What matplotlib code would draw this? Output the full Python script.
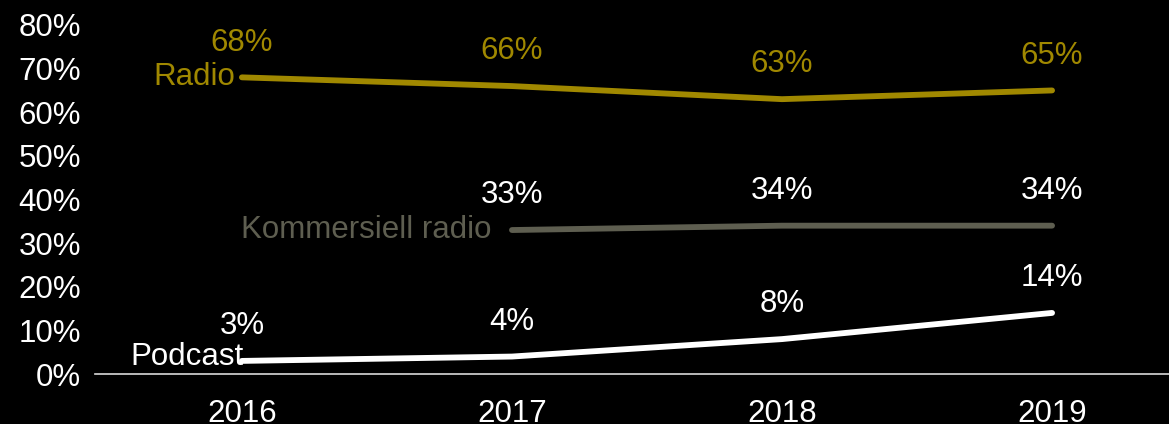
import matplotlib
matplotlib.use("Agg")
import matplotlib.pyplot as plt
import numpy as np

years = ["2016", "2017", "2018", "2019"]
radio = [68, 66, 63, 65]
kommersiell = [np.nan, 33, 34, 34]
podcast = [3, 4, 8, 14]
yticks = [0, 10, 20, 30, 40, 50, 60, 70, 80]

plt.rcParams['font.family'] = ['Liberation Sans', 'DejaVu Sans']

W, H = 1169, 424
fig = plt.figure(figsize=(W / 100, H / 100), dpi=100, facecolor='black')
ax = fig.add_axes([95 / W, 1 - 374 / H, (W - 95) / W, (374 - 25) / H])
ax.set_facecolor('black')

x = np.arange(len(years))
gold = '#a08800'
grey = '#5e5e50'
white = '#ffffff'
FS = 22.5

series = [
    ("Radio", radio, gold, gold, gold, -5, 0),
    ("Kommersiell radio", kommersiell, grey, white, grey, -15, 0),
    ("Podcast", podcast, white, white, white, 1, 3),
]

for name, vals, lc, labc, namec, dx, dy in series:
    v = np.array(vals, dtype=float)
    ax.plot(x, v, color=lc, lw=4.2, solid_capstyle='round', solid_joinstyle='round', zorder=3)
    for xi, yi in zip(x, v):
        if np.isnan(yi):
            continue
        ax.annotate(f"{int(yi)}%", (xi, yi), xytext=(0, 25), textcoords='offset points',
                    ha='center', va='center', color=labc, fontsize=FS)
    first = int(np.where(~np.isnan(v))[0][0])
    ax.annotate(name, (x[first], v[first]), xytext=(dx, dy),
                textcoords='offset points', ha='right', va='center', color=namec, fontsize=FS)

ax.set_xlim(-0.544, 3.433)
ax.set_ylim(0, 80)
ax.set_yticks(yticks)
ax.set_yticklabels([f"{t}%" for t in yticks])
ax.set_xticks(x)
ax.set_xticklabels(years)
ax.tick_params(axis='y', length=0, pad=10, labelcolor='white', labelsize=FS)
ax.tick_params(axis='x', length=0, pad=18, labelcolor='white', labelsize=FS)
for s in ['top', 'right', 'left']:
    ax.spines[s].set_visible(False)
ax.spines['bottom'].set_color('#d9d9d9')
ax.spines['bottom'].set_linewidth(1.2)

fig.savefig("out.png", dpi=100, facecolor='black')
